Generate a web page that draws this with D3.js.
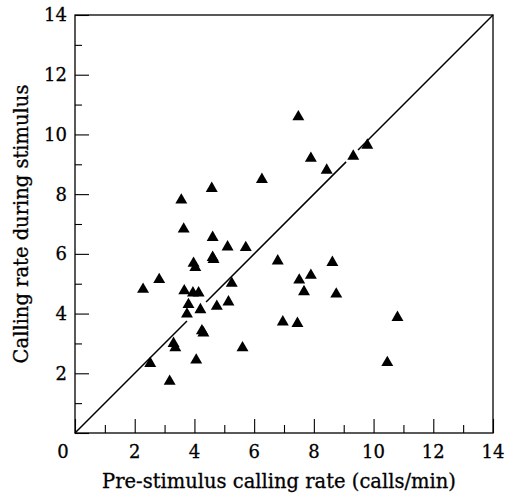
<!DOCTYPE html>
<html>
<head>
<meta charset="utf-8">
<script src="https://cdn.jsdelivr.net/npm/d3@7"></script>
<style>
  body { margin: 0; background: #fff; }
  text { font-family: "DejaVu Serif", serif; fill: #000; stroke: #000; stroke-width: 0.3px; }
</style>
</head>
<body>
<div id="chart"></div>
<script>
// pre-stimulus calling rate (calls/min)
var preRate = [7.90, 9.32, 9.79, 7.48, 8.43, 6.26, 4.58, 3.56, 3.64, 4.61,
               5.11, 5.72, 4.61, 4.64, 3.97, 4.03, 6.79, 8.62, 2.82, 2.28,
               3.66, 3.95, 4.14, 5.25, 7.51, 7.90, 7.67, 8.75, 5.14, 3.80,
               4.20, 4.75, 3.75, 6.96, 7.45, 10.80, 4.25, 4.30, 3.30, 3.36,
               5.61, 2.52, 4.06, 10.46, 3.17];
// calling rate during stimulus
var stimRate = [9.20, 9.27, 9.64, 10.59, 8.80, 8.49, 8.19, 7.80, 6.83, 6.55,
                6.23, 6.21, 5.88, 5.81, 5.68, 5.54, 5.76, 5.71, 5.14, 4.81,
                4.76, 4.69, 4.69, 5.01, 5.12, 5.28, 4.73, 4.65, 4.39, 4.30,
                4.13, 4.24, 3.98, 3.72, 3.67, 3.87, 3.42, 3.35, 3.00, 2.85,
                2.85, 2.33, 2.44, 2.36, 1.73];
var majorTicks = [0, 2, 4, 6, 8, 10, 12, 14];
var minorTicks = [1, 3, 5, 7, 9, 11, 13];
// line of equality y = x, drawn in pieces (gaps where it meets points)
var lineSegments = [[0, 3.75], [4.39, 9.08], [9.48, 14]];

var margin = {top: 15, right: 18, bottom: 64, left: 75},
    width = 511 - margin.left - margin.right,
    height = 497 - margin.top - margin.bottom;

var x = d3.scaleLinear().domain([0, 14]).range([0, width]);
var y = d3.scaleLinear().domain([0, 14]).range([height, 0]);

var svg = d3.select("#chart").append("svg")
    .attr("width", 511)
    .attr("height", 497)
    .append("g")
    .attr("transform", "translate(" + margin.left + "," + margin.top + ")");

// frame
svg.append("rect")
    .attr("width", width)
    .attr("height", height)
    .attr("fill", "none")
    .attr("stroke", "#000")
    .attr("stroke-width", 1.3);

// x axis: long ticks at labels, short ticks between (pointing inward)
svg.append("g")
    .attr("transform", "translate(0," + height + ")")
    .call(d3.axisTop(x).tickValues(majorTicks).tickSize(14).tickFormat(""));
svg.append("g")
    .attr("transform", "translate(0," + height + ")")
    .call(d3.axisTop(x).tickValues(minorTicks).tickSize(8).tickFormat(""));

svg.append("g")
    .call(d3.axisRight(y).tickValues(majorTicks).tickSize(14).tickFormat(""));
svg.append("g")
    .call(d3.axisRight(y).tickValues(minorTicks).tickSize(7).tickFormat(""));

svg.selectAll(".domain").remove();
svg.selectAll(".tick line").attr("stroke", "#000").attr("stroke-width", 1.1);

// tick labels (single "0" shared at the corner)
svg.append("g").selectAll("text")
    .data(majorTicks)
    .enter().append("text")
    .attr("x", function(d) { return d === 0 ? x(d) - 12 : x(d); })
    .attr("y", height + 25)
    .attr("text-anchor", "middle")
    .attr("font-size", "18px")
    .text(function(d) { return d; });

svg.append("g").selectAll("text")
    .data(majorTicks.filter(function(d) { return d > 0; }))
    .enter().append("text")
    .attr("x", -8)
    .attr("y", function(d) { return y(d); })
    .attr("dy", "0.36em")
    .attr("text-anchor", "end")
    .attr("font-size", "18px")
    .text(function(d) { return d; });

// line of equality
svg.append("g").selectAll("line")
    .data(lineSegments)
    .enter().append("line")
    .attr("x1", function(d) { return x(d[0]); })
    .attr("y1", function(d) { return y(d[0]); })
    .attr("x2", function(d) { return x(d[1]); })
    .attr("y2", function(d) { return y(d[1]); })
    .attr("stroke", "#000")
    .attr("stroke-width", 1.5);

// points
var tri = d3.symbol().type(d3.symbolTriangle).size(62);
svg.append("g").selectAll("path")
    .data(preRate)
    .enter().append("path")
    .attr("d", tri)
    .attr("transform", function(d, i) { return "translate(" + x(d) + "," + y(stimRate[i]) + ")"; })
    .attr("fill", "#000");

// axis titles
svg.append("text")
    .attr("x", width / 2 - 5)
    .attr("y", height + 55)
    .attr("text-anchor", "middle")
    .attr("font-size", "19.5px")
    .text("Pre-stimulus calling rate (calls/min)");

svg.append("text")
    .attr("transform", "translate(" + (-47) + "," + (height / 2) + ") rotate(-90)")
    .attr("text-anchor", "middle")
    .attr("font-size", "19.5px")
    .text("Calling rate during stimulus");
</script>
</body>
</html>
